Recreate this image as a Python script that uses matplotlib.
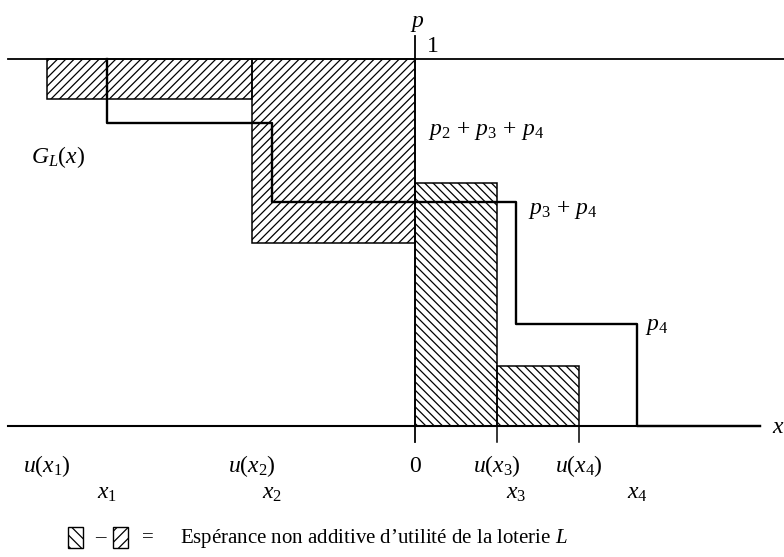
import matplotlib.pyplot as plt
from matplotlib.patches import Rectangle

plt.rcParams['font.family'] = ['Liberation Serif', 'DejaVu Serif']
plt.rcParams['mathtext.fontset'] = 'custom'
plt.rcParams['mathtext.rm'] = 'Liberation Serif'
plt.rcParams['mathtext.it'] = 'Liberation Serif:italic'
plt.rcParams['hatch.linewidth'] = 0.9

# utilities of the outcomes (origin = 0 on the x axis)
u_neg = [-3.68, -1.63]            # u(x1), u(x2)
u_pos = [0.82, 1.64]              # u(x3), u(x4)
u_labels = ['$u(x_1)$', '$u(x_2)$', '$u(x_3)$', '$u(x_4)$']

# outcomes and decumulative function G_L
x_steps = [-3.08, -1.43, 1.01, 2.22]
x_labels = ['$x_1$', '$x_2$', '$x_3$', '$x_4$']
G_levels = [1.0, 0.826, 0.610, 0.278, 0.0]      # 1, p2+p3+p4, p3+p4, p4, 0
G_labels = ['$p_2\\,+\\,p_3\\,+\\,p_4$', '$p_3\\,+\\,p_4$', '$p_4$']

# transformed probabilities (heights of the hatched blocks)
w_neg = [0.891, 0.499]
w_pos = [0.662, 0.163]

fs = 17
fig = plt.figure(figsize=(7.84, 5.57), dpi=100)
ax = fig.add_axes([0, 0, 1, 1])
ax.set_xlim(-4.15, 3.69)
ax.set_ylim(-0.357, 1.161)
ax.axis('off')

# hatched blocks, negative side (u(x1)..u(x2) strip, then u(x2)..0 block)
edges = u_neg + [0]
for i, w in enumerate(w_neg):
    ax.add_patch(Rectangle((edges[i], w), edges[i + 1] - edges[i], 1 - w,
                           fill=False, hatch='////', edgecolor='black', lw=1.1))
# hatched blocks, positive side
left = 0
for u, w in zip(u_pos, w_pos):
    ax.add_patch(Rectangle((left, 0), u - left, w, fill=False, hatch='\\\\\\\\',
                           edgecolor='black', lw=1.1))
    left = u

# axes
ax.plot([-4.07, 3.69], [1, 1], color='black', lw=1.3)
ax.plot([-4.07, 3.45], [0, 0], color='black', lw=1.5)
ax.plot([0, 0], [-0.044, 1.063], color='black', lw=1.3)
for u in u_pos:
    ax.plot([u, u], [-0.044, 0], color='black', lw=1.1)

# step function G_L(x)
gx, gy = [], []
for i, xs in enumerate(x_steps):
    gx += [xs, xs]
    gy += [G_levels[i], G_levels[i + 1]]
gx.append(3.45)
gy.append(0)
ax.plot(gx, gy, color='black', lw=1.7)

# labels
ax.text(0.02, 1.098, '$p$', fontsize=fs, ha='center', va='center')
ax.text(0.12, 1.035, '1', fontsize=fs, ha='left', va='center')
ax.text(-3.57, 0.733, '$G_L(x)$', fontsize=fs, ha='center', va='center')
ax.text(3.57, -0.005, '$x$', fontsize=fs, ha='left', va='center')
for lab, xp, yp in zip(G_labels, [0.13, 1.13, 2.30], [0.804, 0.59, 0.27]):
    ax.text(xp, yp, lab, fontsize=fs, ha='left', va='center')

for lab, u in zip(u_labels, u_neg + u_pos):
    ax.text(u, -0.109, lab, fontsize=fs, ha='center', va='center')
ax.text(0, -0.109, '0', fontsize=fs, ha='center', va='center')
for lab, xs in zip(x_labels, x_steps):
    ax.text(xs, -0.183, lab, fontsize=fs, ha='center', va='center')

# legend at the bottom
for x0, h in [(68, '\\\\\\'), (113, '///')]:
    fig.add_artist(Rectangle((x0 / 784, 9 / 557), 15 / 784, 21 / 557,
                             fill=False, hatch=h, edgecolor='black', lw=1.0,
                             transform=fig.transFigure))
fig.text(100 / 784, 19 / 557, '–', fontsize=15, ha='center', va='center')
fig.text(148 / 784, 19 / 557, '=', fontsize=15, ha='center', va='center')
fig.text(180 / 784, 19 / 557, 'Espérance non additive d’utilité de la loterie $L$',
         fontsize=15, ha='left', va='center')

fig.savefig('out.png', dpi=100)
